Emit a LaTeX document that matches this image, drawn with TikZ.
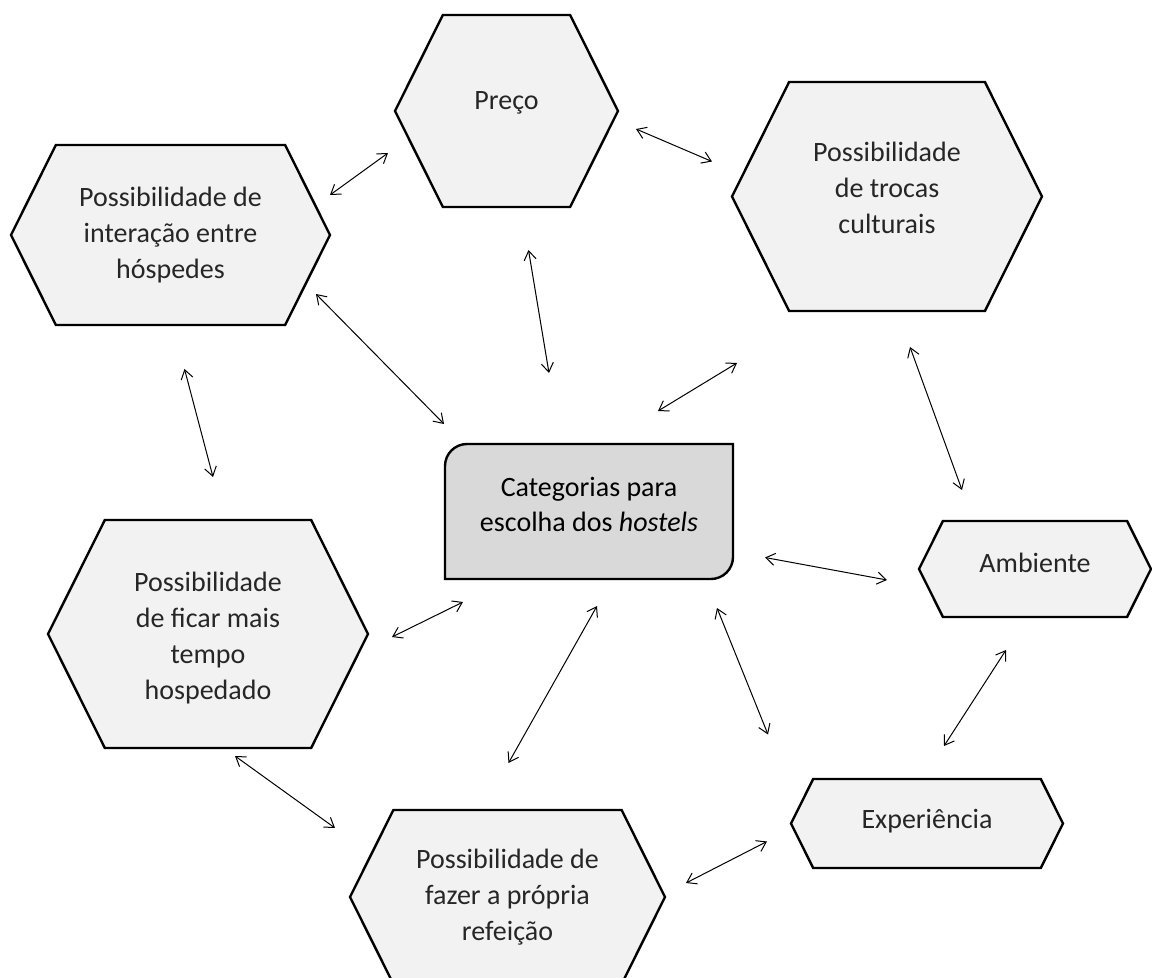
\documentclass[tikz,border=0pt]{standalone}
\usepackage{fontspec}
\setmainfont{Carlito}
\usetikzlibrary{arrows.meta,shapes.symbols,backgrounds}
\definecolor{topicfill}{HTML}{F2F2F2}
\definecolor{corefill}{HTML}{D9D9D9}

\begin{document}
\begin{tikzpicture}[
    x=0.5pt, y=-0.5pt,
    >={Straight Barb[length=4.5pt,width=6pt]},
    topic/.style={
      signal, signal to=west and east, signal pointer angle=127,
      draw=black, line width=1.2pt, fill=topicfill,
      inner sep=0pt, outer sep=0pt,
      align=center, text=black!85, font=\fontsize{14}{18}\selectfont
    },
    core/.style={
      rectangle, inner sep=0pt, outer sep=0pt,
      minimum width=144pt, minimum height=67.5pt,
      align=center, font=\fontsize{14}{17.5}\selectfont
    },
    link/.style={<->, line width=0.5pt}
  ]
  \useasboundingbox (0,0) rectangle (1152,978);

  % the seven categories
  \node[topic, minimum width=111.5pt, minimum height=96pt,
        text height=10pt, text depth=11pt] (preco) at (506.5,111) {Preço};
  \node[topic, minimum width=155pt, minimum height=114.5pt,
        text height=46pt, text depth=8.5pt] (trocas) at (887,196.5)
    {Possibilidade\\de trocas\\culturais};
  \node[topic, minimum width=159.5pt, minimum height=90pt] (interacao) at (170.5,235)
    {Possibilidade de\\interação entre\\hóspedes};
  \node[topic, minimum width=160pt, minimum height=114pt,
        text height=66pt, text depth=0.8pt] (ficar) at (208,634)
    {Possibilidade\\de ficar mais\\tempo\\hospedado};
  \node[topic, minimum width=157.5pt, minimum height=87pt] (refeicao) at (507.5,897)
    {Possibilidade de\\fazer a própria\\refeição};
  \node[topic, minimum width=116pt, minimum height=48pt,
        text height=10pt, text depth=6.8pt] (ambiente) at (1035,569) {Ambiente};
  \node[topic, minimum width=136pt, minimum height=44.5pt,
        text height=10.5pt, text depth=5.8pt] (experiencia) at (927,823.5) {Experiência};

  % centre
  \node[core, text height=28pt, text depth=7.5pt] (cat) at (589,511.5)
    {Categorias para\\escolha dos \textit{hostels}};
  \begin{scope}[on background layer]
    \filldraw[fill=corefill, line width=1.2pt]
      ([xshift=11pt]cat.north west) -- (cat.north east)
      -- ([yshift=11pt]cat.south east) arc[start angle=0, end angle=-90, radius=11pt]
      -- (cat.south west)
      -- ([yshift=-11pt]cat.north west) arc[start angle=180, end angle=90, radius=11pt]
      -- cycle;
  \end{scope}

  % links
  \draw[link] ([shift={(0,-40)}]interacao.east) -- ([shift={(-7,42)}]preco.west);
  \draw[link] ([shift={(18,18)}]preco.east) -- ([shift={(-20,-35)}]trocas.west);
  \draw[link] ([shift={(22,43)}]preco.south) -- ([shift={(-40,-71)}]cat.north);
  \draw[link] ([shift={(-14,59)}]interacao.east) -- ([shift={(-1,-20)}]cat.north west);
  \draw[link] ([shift={(-150,52)}]trocas.south) -- ([shift={(-75,-33)}]cat.north east);
  \draw[link] ([shift={(23,36)}]trocas.south) -- ([shift={(-73,-31)}]ambiente.north);
  \draw[link] ([shift={(14,44)}]interacao.south) -- ([shift={(5,-43)}]ficar.north);
  \draw[link] ([shift={(32,46)}]cat.east) -- ([shift={(-32,11)}]ambiente.west);
  \draw[link] ([shift={(18,23)}]cat.south west) -- ([shift={(24,3)}]ficar.east);
  \draw[link] ([shift={(8,27)}]cat.south) -- ([shift={(1,-47)}]refeicao.north);
  \draw[link] ([shift={(-16,29)}]cat.south east) -- ([shift={(-23,-89)}]experiencia.west);
  \draw[link] ([shift={(-29,33)}]ambiente.south) -- ([shift={(17,-33)}]experiencia.north);
  \draw[link] ([shift={(27,8)}]ficar.south) -- ([shift={(-15,-69)}]refeicao.west);
  \draw[link] ([shift={(-24,18)}]experiencia.west) -- ([shift={(21,-14)}]refeicao.east);
\end{tikzpicture}
\end{document}
